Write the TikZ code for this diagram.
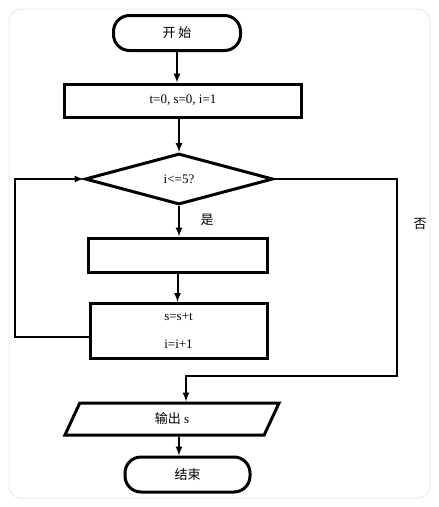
\documentclass[tikz,border=0pt]{standalone}
\usepackage{fontspec}
\setmainfont{Liberation Serif}
\newfontfamily\cjk{Noto Sans CJK SC}
\usetikzlibrary{arrows,shapes.geometric,positioning,calc}

\tikzset{
  box/.style = {draw, line width=3pt, rectangle, inner sep=0pt},
  term/.style = {box, rounded corners=16pt},
  cond/.style = {draw, line width=3pt, diamond, inner sep=0pt, aspect=3.7},
  io/.style = {draw, line width=3pt, trapezium, trapezium left angle=77,
    trapezium right angle=103, trapezium stretches=true, inner sep=0pt},
  line/.style = {line width=2pt},
}

\begin{document}
\begin{tikzpicture}[x=1pt, y=-1pt, font=\fontsize{13}{15}\selectfont, >=latex]
 \useasboundingbox (0,0) rectangle (439,507);
 \filldraw[fill=white, draw=black!7, line width=1pt, rounded corners=12pt] (9,9) rectangle (430,498);

 \node[term, minimum width=127pt, minimum height=35pt] (start) at (177,33) {\cjk 开\ 始};
 \node[box, minimum width=237pt, minimum height=33pt] (init) at (183,100.5) {t=0, s=0, i=1};
 \node[cond, minimum width=188pt, minimum height=51pt] (test) at (179,179) {i<=5?};
 \node[box, minimum width=179pt, minimum height=34pt] (blank) at (177.5,255) {};
 \node[box, minimum width=177pt, minimum height=55pt, align=center] (body) at (178.5,331)
   {s=s+t\\[13pt]i=i+1};
 \node[io, minimum width=215pt, minimum height=32pt] (out) at (172,419) {{\cjk 输出} s};
 \node[term, minimum width=125pt, minimum height=35pt] (stop) at (187.5,474.5) {\cjk 结束};

 \node (yes) at (207,220) {\cjk 是};
 \node (no) at (420,224) {\cjk 否};

 \coordinate (nocorner) at (397,376);
 \coordinate (join) at (186,376);

 \draw[line, ->] (start.south) -- (start.south |- init.north);
 \draw[line, ->] (test.north |- init.south) -- (test.north);
 \draw[line, ->] (test.south) -- (test.south |- blank.north);
 \draw[line, ->] (blank.south) -- (blank.south |- body.north);
 \draw[line, ->] ([yshift=-6pt]body.west) -| (15,179) -- (test.west);
 \draw[line, ->] (test.east) -| (nocorner) -- (join) -- (join |- out.north);
 \draw[line, ->] ([xshift=7pt]out.south) -- ([xshift=7pt]out.south |- stop.north);
\end{tikzpicture}
\end{document}
